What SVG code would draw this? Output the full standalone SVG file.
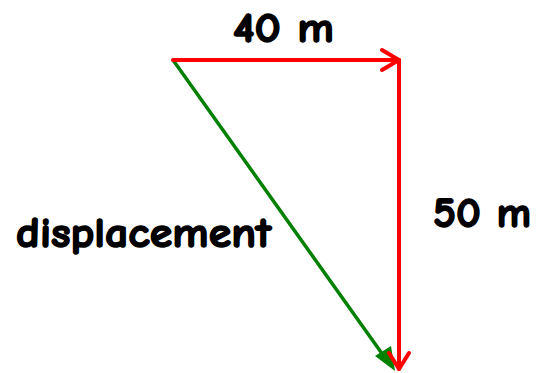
<svg xmlns="http://www.w3.org/2000/svg" width="538" height="373" viewBox="0 0 538 373">
<style>
.lbl{font-family:"Comic Neue","Liberation Sans",sans-serif;font-weight:bold;font-size:43px;fill:#000;stroke:#000;stroke-width:1.6;stroke-linejoin:round}
.red{stroke:#ff0000;stroke-width:4;fill:none;stroke-linecap:round;stroke-linejoin:round}
.grn{stroke:#008000;stroke-width:3.5;fill:none}
</style>
<rect width="538" height="373" fill="#fff"/>
<g id="connectors">
<line class="grn" x1="173" y1="60" x2="388" y2="362"/>
<polygon points="395,371 375,356 391,346" fill="#008000"/>
<line class="red" x1="173" y1="60" x2="399" y2="60"/>
<polyline class="red" points="382,50 399,60 382,70"/>
<line class="red" x1="399" y1="60" x2="399" y2="369"/>
<polyline class="red" points="389,353 399,369 409,353"/>
</g>
<g id="label-40"><text class="lbl" x="233" y="42" textLength="101" lengthAdjust="spacingAndGlyphs">40 m</text></g>
<g id="label-50"><text class="lbl" x="433" y="227" textLength="98" lengthAdjust="spacingAndGlyphs">50 m</text></g>
<g id="label-disp"><text class="lbl" x="16" y="247" textLength="255" lengthAdjust="spacingAndGlyphs">displacement</text></g>
</svg>
